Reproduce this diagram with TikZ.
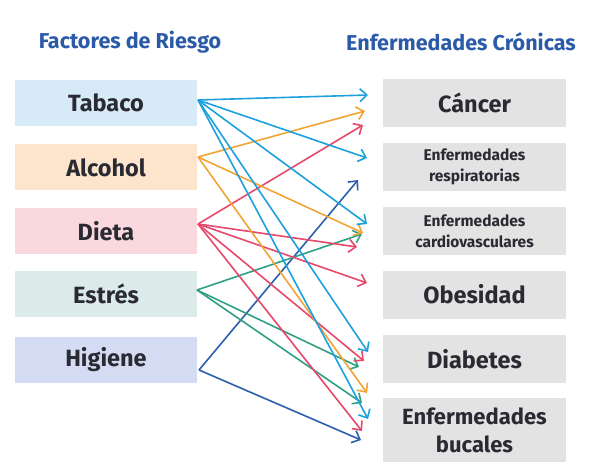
\documentclass[tikz,border=0pt]{standalone}
\usepackage{fontspec}
\setmainfont{Fira Sans}
\usetikzlibrary{arrows.meta}
\definecolor{hdr}{HTML}{2B5BA8}
\definecolor{txt}{HTML}{2A2A33}
\definecolor{ftab}{HTML}{D6EAF8}
\definecolor{falc}{HTML}{FCE5CC}
\definecolor{fdie}{HTML}{F9D9DE}
\definecolor{fest}{HTML}{DCEBEA}
\definecolor{fhig}{HTML}{D3DCF2}
\definecolor{fgray}{HTML}{E3E3E3}
\definecolor{ctab}{HTML}{1DA1DD}
\definecolor{calc}{HTML}{F2A535}
\definecolor{cdie}{HTML}{E8486A}
\definecolor{cest}{HTML}{2FA085}
\definecolor{chig}{HTML}{2C5FAD}
\begin{document}
\begin{tikzpicture}[x=1pt,y=-1pt,
  lbox/.style={minimum width=182pt, minimum height=46pt, inner sep=0pt, text=txt, font=\bfseries\fontsize{23.5}{26}\selectfont},
  rbox/.style={fill=fgray, minimum width=183pt, minimum height=48pt, inner sep=0pt, text=txt, align=center, font=\bfseries\fontsize{23.5}{26}\selectfont},
  sbox/.style={rbox, font=\bfseries\fontsize{15.5}{21}\selectfont},
  hdrtxt/.style={text=hdr, font=\bfseries\fontsize{21.5}{24}\selectfont},
  conn/.style={line width=1.6pt, -{Straight Barb[length=7pt,width=13pt,line width=1.6pt]}}
]
\useasboundingbox[fill=white] (0,0) rectangle (592,468);
\node[hdrtxt] (h1) at (130,42) {Factores de Riesgo};
\node[hdrtxt] (h2) at (461,42) {Enfermedades Crónicas};

\node[lbox, fill=ftab] (tab) at (106,103) {Tabaco};
\node[lbox, fill=falc] (alc) at (106,167.5) {Alcohol};
\node[lbox, fill=fdie] (die) at (106,231) {Dieta};
\node[lbox, fill=fest] (est) at (106,294) {Estrés};
\node[lbox, fill=fhig] (hig) at (106,359.5) {Higiene};

\node[rbox] (can) at (474.5,103) {Cáncer};
\node[sbox] (res) at (474.5,167) {Enfermedades\\respiratorias};
\node[sbox] (car) at (474.5,231) {Enfermedades\\cardiovasculares};
\node[rbox] (obe) at (474.5,294.5) {Obesidad};
\node[rbox] (dia) at (474.5,359) {Diabetes};
\node[rbox, minimum height=64pt, font=\bfseries\fontsize{22}{28}\selectfont] (buc) at (474.5,430) {Enfermedades\\bucales};

% origins
\coordinate (oTab) at (198,100);
\coordinate (oAlc) at (198,157);
\coordinate (oDie) at (198,224);
\coordinate (oEst) at (197,290);
\coordinate (oHig) at (199,370);
% tips
\coordinate (t1) at (368,95);
\coordinate (t2) at (365,111);
\coordinate (t3) at (363,125);
\coordinate (t4) at (367,158);
\coordinate (t5) at (358,180);
\coordinate (t6) at (367,224);
\coordinate (t7) at (363,233);
\coordinate (t8) at (362,234);
\coordinate (t9) at (357,247);
\coordinate (t10) at (367,283);
\coordinate (t11) at (368,352);
\coordinate (t12) at (364,361);
\coordinate (t13) at (359,367);
\coordinate (t14) at (367,393);
\coordinate (t15) at (362,403);
\coordinate (t16) at (368,419);
\coordinate (t17) at (362,431);
\coordinate (t18) at (361,440);

\draw[conn, chig] (oHig) -- (t5);
\draw[conn, chig] (oHig) -- (t18);
\draw[conn, cest] (oEst) -- (t8);
\draw[conn, cest] (oEst) -- (t13);
\draw[conn, cest] (oEst) -- (t15);
\draw[conn, cdie] (oDie) -- (t3);
\draw[conn, cdie] (oDie) -- (t9);
\draw[conn, cdie] (oDie) -- (t10);
\draw[conn, cdie] (oDie) -- (t12);
\draw[conn, cdie] (oDie) -- (t17);
\draw[conn, calc] (oAlc) -- (t2);
\draw[conn, calc] (oAlc) -- (t7);
\draw[conn, calc] (oAlc) -- (t14);
\draw[conn, ctab] (oTab) -- (t1);
\draw[conn, ctab] (oTab) -- (t4);
\draw[conn, ctab] (oTab) -- (t6);
\draw[conn, ctab] (oTab) -- (t11);
\draw[conn, ctab] (oTab) -- (t16);
\end{tikzpicture}
\end{document}
